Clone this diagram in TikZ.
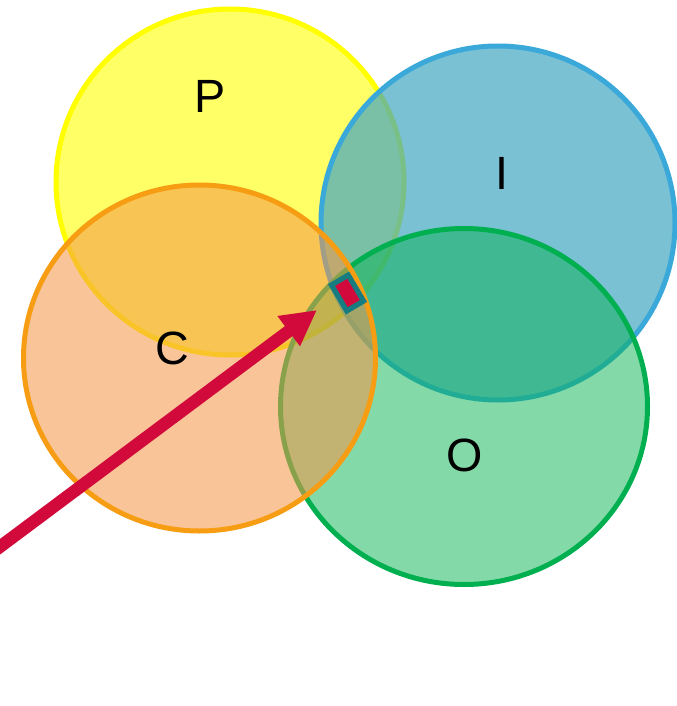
\documentclass[tikz,border=0pt]{standalone}
\usepackage{fontspec}
\setmainfont{Liberation Sans}
\usetikzlibrary{arrows.meta}
\definecolor{pstroke}{RGB}{255,255,0}
\definecolor{pfill}{RGB}{255,255,0}
\definecolor{istroke}{RGB}{58,168,216}
\definecolor{ifill}{RGB}{65,166,194}
\definecolor{ostroke}{RGB}{0,176,80}
\definecolor{ofill}{RGB}{9,179,83}
\definecolor{cstroke}{RGB}{246,157,20}
\definecolor{cfill}{RGB}{244,151,71}
\definecolor{markteal}{RGB}{22,124,128}
\definecolor{crimsonred}{RGB}{210,10,60}
\begin{document}
\begin{tikzpicture}[x=0.75pt,y=-0.75pt,
  setshape/.style={line width=3.75pt},
  setlabel/.style={anchor=base, inner sep=0pt, font=\fontsize{35}{42}\selectfont}]
\useasboundingbox (0,0) rectangle (677,706);
\clip (0,0) rectangle (677,706);
% P
\draw[setshape, draw=pstroke, fill=pfill, fill opacity=0.6] (230,182) ellipse [x radius=174, y radius=173];
% I
\draw[setshape, draw=istroke, fill=ifill, fill opacity=0.7] (498,223) ellipse [x radius=177, y radius=177];
% O
\draw[setshape, draw=ostroke, fill=ofill, fill opacity=0.5] (464,406.5) ellipse [x radius=183.5, y radius=178];
% C
\draw[setshape, draw=cstroke, fill=cfill, fill opacity=0.56] (199.5,358) ellipse [x radius=176, y radius=173];
% labels
\node[setlabel] (lp) at (210,112.5) {P};
\node[setlabel] (li) at (502,190) {I};
\node[setlabel] (lc) at (172,364.5) {C};
\node[setlabel] (lo) at (465,471) {O};
% arrow
\coordinate (astart) at (-10,554.2);
\coordinate (atip) at (317,310);
\draw[crimsonred, line width=9.4pt, -{Triangle[length=26.5pt,width=26.3pt]}] (astart) -- (atip);
% marker
\node[draw=markteal, fill=crimsonred, line width=3.9pt, minimum width=22.6pt, minimum height=14.6pt, inner sep=0pt, rotate=-59.4] (mark) at (347.5,293) {};
\end{tikzpicture}
\end{document}
